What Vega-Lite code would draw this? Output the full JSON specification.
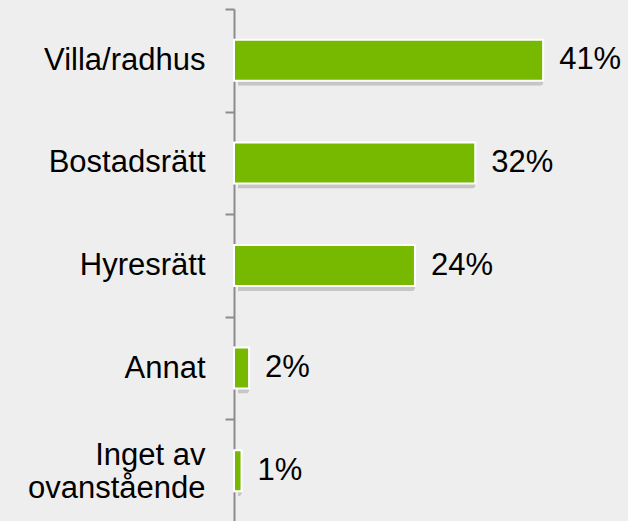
{
  "$schema": "https://vega.github.io/schema/vega-lite/v6.json",
  "width": 377,
  "height": 513,
  "autosize": {"type": "none"},
  "padding": {"left": 234, "top": 9, "right": 17, "bottom": 0},
  "background": "#eeeeee",
  "config": {"view": {"stroke": null}, "font": "Liberation Sans"},
  "data": {
    "values": [
      {"kategori": "Villa/radhus", "andel": 0.41},
      {"kategori": "Bostadsrätt", "andel": 0.32},
      {"kategori": "Hyresrätt", "andel": 0.24},
      {"kategori": "Annat", "andel": 0.02},
      {"kategori": "Inget av ovanstående", "andel": 0.01}
    ]
  },
  "encoding": {
    "y": {
      "field": "kategori",
      "type": "nominal",
      "sort": null,
      "scale": {"paddingInner": 0, "paddingOuter": 0},
      "axis": {
        "title": null,
        "tickBand": "extent",
        "domainColor": "#8c8c8c",
        "domainWidth": 2,
        "tickColor": "#8c8c8c",
        "tickWidth": 2,
        "tickSize": 9,
        "labelPadding": 20,
        "labelFontSize": 31,
        "labelColor": "#000000",
        "labelFont": "Liberation Sans",
        "labelLineHeight": 33,
        "labelLimit": 300,
        "labelOffset": {"condition": {"test": "datum.value == 'Inget av ovanstående'", "value": -15}, "value": 0},
        "labelExpr": "datum.value == 'Inget av ovanstående' ? ['Inget av', 'ovanstående'] : datum.value"
      }
    },
    "x": {
      "field": "andel",
      "type": "quantitative",
      "scale": {"domain": [0, 0.5], "nice": false},
      "axis": null
    }
  },
  "layer": [
    {
      "mark": {"type": "bar", "height": {"band": 0.4}, "color": "#8a8a8a", "opacity": 0.4, "xOffset": 4, "yOffset": 5, "cornerRadius": 3}
    },
    {
      "mark": {"type": "bar", "height": {"band": 0.4}, "color": "#76b900", "stroke": "#ffffff", "strokeWidth": 2}
    },
    {
      "mark": {"type": "text", "align": "left", "baseline": "middle", "dx": 16, "fontSize": 31, "color": "#000000"},
      "encoding": {"text": {"field": "andel", "type": "quantitative", "format": ".0%"}}
    }
  ]
}
